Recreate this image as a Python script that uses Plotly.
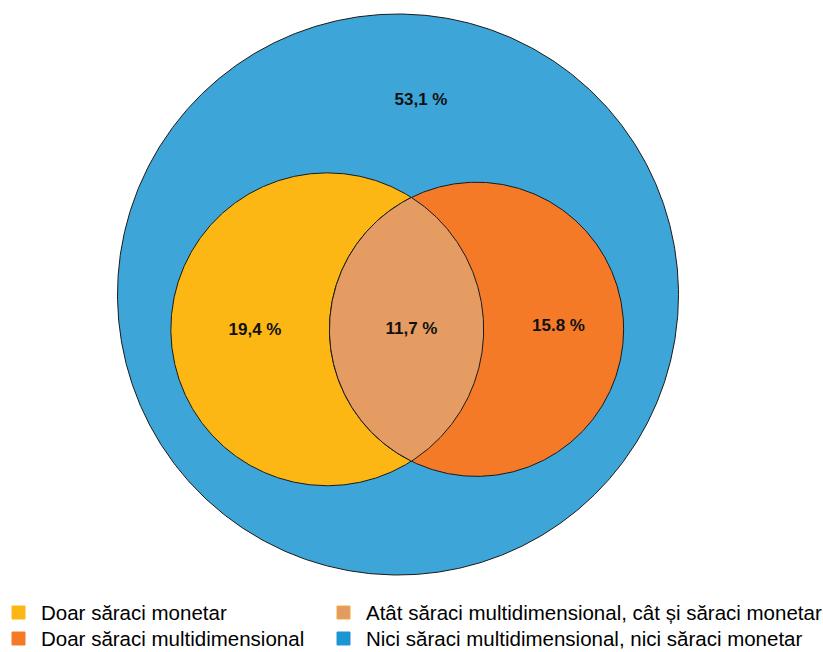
import numpy as np
import plotly.graph_objects as go

# Venn regions (percent of population)
regions = [
    "Doar săraci monetar",
    "Atât săraci multidimensional, cât și săraci monetar",
    "Doar săraci multidimensional",
    "Nici săraci multidimensional, nici săraci monetar",
]
shares = [19.4, 11.7, 15.8, 53.1]
value_labels = ["19,4 %", "11,7 %", "15.8 %", "53,1 %"]
colors = ["#FDB714", "#E49C62", "#F47A28", "#3EA5D8"]
legend_colors = ["#FDB714", "#E39B63", "#F47A28", "#1D95D3"]

W, H = 823, 652
OUTLINE = "#1a1a1a"
FONT = "Arial, Liberation Sans, sans-serif"

# ---- area-proportional geometry (pixel units) ----
only_mon, both, only_multi, neither = shares
total = sum(shares)
R_total = 280.5
big_c = (398.0, 294.5)
r_mon = R_total * np.sqrt((only_mon + both) / total)
r_multi = R_total * np.sqrt((only_multi + both) / total)
lens_target = np.pi * R_total ** 2 * both / total


def lens_area(d, r1, r2):
    a1 = np.arccos((d * d + r1 * r1 - r2 * r2) / (2 * d * r1))
    a2 = np.arccos((d * d + r2 * r2 - r1 * r1) / (2 * d * r2))
    k = np.sqrt((-d + r1 + r2) * (d + r1 - r2) * (d - r1 + r2) * (d + r1 + r2))
    return r1 * r1 * a1 + r2 * r2 * a2 - 0.5 * k


lo, hi = abs(r_mon - r_multi) + 1e-6, r_mon + r_multi - 1e-6
for _ in range(100):
    mid = 0.5 * (lo + hi)
    if lens_area(mid, r_mon, r_multi) > lens_target:
        lo = mid
    else:
        hi = mid
d = 0.5 * (lo + hi)

pair_mid_x, pair_y = 401.9, 329.3
c_mon = (pair_mid_x - d / 2, pair_y)
c_multi = (pair_mid_x + d / 2, pair_y)


def circle(c, r, n=721):
    t = np.linspace(0, 2 * np.pi, n)
    return c[0] + r * np.cos(t), c[1] + r * np.sin(t)


# lens outline: right arc of the "monetar" circle + left arc of the "multi" circle
a = (d * d + r_mon ** 2 - r_multi ** 2) / (2 * d)
h = np.sqrt(r_mon ** 2 - a * a)
al1 = np.arctan2(h, a)
al2 = np.arctan2(h, d - a)
t1 = np.linspace(-al1, al1, 300)
t2 = np.linspace(np.pi - al2, np.pi + al2, 300)
lens_x = np.concatenate([c_mon[0] + r_mon * np.cos(t1), c_multi[0] + r_multi * np.cos(t2)])
lens_y = np.concatenate([c_mon[1] + r_mon * np.sin(t1), c_multi[1] + r_multi * np.sin(t2)])
lens_x = np.append(lens_x, lens_x[0])
lens_y = np.append(lens_y, lens_y[0])

fig = go.Figure()

shapes_xy = [
    (circle(big_c, R_total), colors[3]),
    (circle(c_mon, r_mon), colors[0]),
    (circle(c_multi, r_multi), colors[2]),
    ((lens_x, lens_y), colors[1]),
]
for (xs, ys), col in shapes_xy:
    fig.add_trace(go.Scatter(
        x=xs, y=ys, mode="lines", fill="toself", fillcolor=col,
        line=dict(color=OUTLINE, width=1), hoverinfo="skip", showlegend=False,
    ))

# value labels
label_pos_x = [255, 411.5, 558.5, 421]
label_pos_y = [331, 330, 327, 101]
fig.add_trace(go.Scatter(
    x=label_pos_x, y=label_pos_y, mode="text", text=value_labels,
    textfont=dict(family=FONT, size=17, color="#111111"),
    texttemplate="<b>%{text}</b>", hoverinfo="skip", showlegend=False,
))

# legend: two columns, two rows
legend_cells = [(18.5, 612.5), (343.5, 612.5), (18.5, 638.5), (343.5, 638.5)]
fig.add_trace(go.Scatter(
    x=[c[0] for c in legend_cells], y=[c[1] for c in legend_cells],
    mode="markers", hoverinfo="skip", showlegend=False,
    marker=dict(symbol="square", size=13, color=legend_colors,
                line=dict(width=1, color=["#FDB714", "#F2A93B", "#F47A28", "#1D95D3"])),
))
for (cx, cy), name in zip(legend_cells, regions):
    fig.add_annotation(
        x=cx + 20, y=cy, xref="x", yref="y", text=name, showarrow=False,
        xanchor="left", yanchor="middle",
        font=dict(family=FONT, size=20.5, color="#000000"),
    )

fig.update_layout(
    width=W, height=H,
    margin=dict(l=0, r=0, t=0, b=0),
    paper_bgcolor="white", plot_bgcolor="white",
    xaxis=dict(range=[0, W], visible=False, fixedrange=True),
    yaxis=dict(range=[H, 0], visible=False, fixedrange=True),
    showlegend=False,
)

fig.write_html("out.html")
